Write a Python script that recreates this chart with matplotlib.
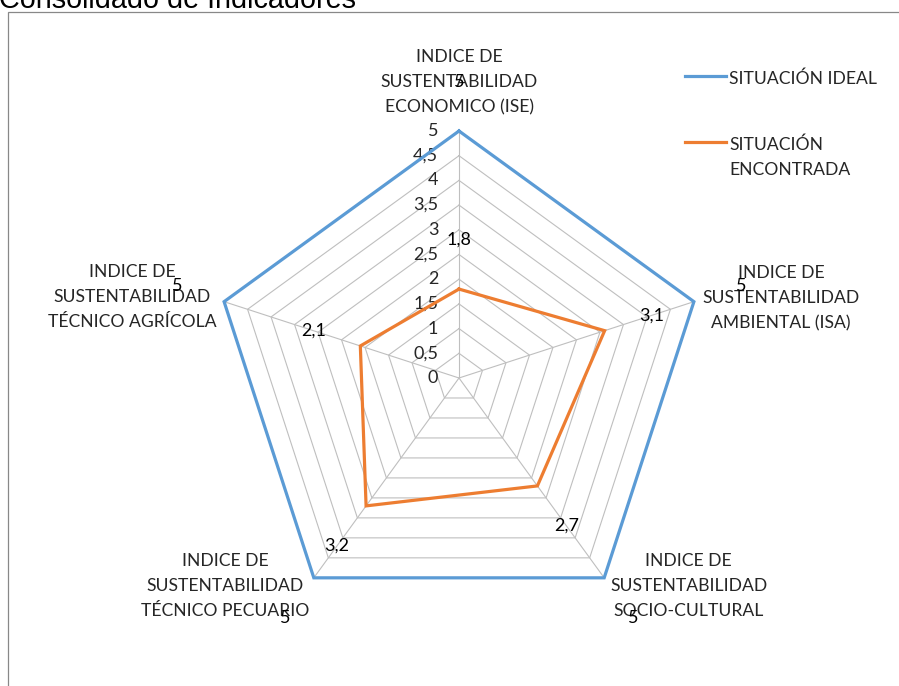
import numpy as np
import matplotlib.pyplot as plt
from matplotlib.lines import Line2D
from matplotlib.patches import Rectangle

# indicadores (ejes del radar) y valores de cada serie
categorias = [
    "INDICE DE\nSUSTENTABILIDAD\nECONOMICO (ISE)",
    "INDICE DE\nSUSTENTABILIDAD\nAMBIENTAL (ISA)",
    "INDICE DE\nSUSTENTABILIDAD\nSOCIO-CULTURAL",
    "INDICE DE\nSUSTENTABILIDAD\nTÉCNICO PECUARIO",
    "INDICE DE\nSUSTENTABILIDAD\nTÉCNICO AGRÍCOLA",
]
ideal = [5, 5, 5, 5, 5]
encontrada = [1.8, 3.1, 2.7, 3.2, 2.1]
etiquetas_ideal = ["5", "5", "5", "5", "5"]
etiquetas_encontrada = ["1,8", "3,1", "2,7", "3,2", "2,1"]
series = ["SITUACIÓN IDEAL", "SITUACIÓN\nENCONTRADA"]
ticks = [0, 0.5, 1, 1.5, 2, 2.5, 3, 3.5, 4, 4.5, 5]
tick_labels = ["0", "0,5", "1", "1,5", "2", "2,5", "3", "3,5", "4", "4,5", "5"]

AZUL = "#5B9BD5"
NARANJA = "#ED7D31"
GRIS = "#BFBFBF"
FUENTE = "Lato"

W, H = 899, 686
fig = plt.figure(figsize=(W / 100, H / 100), dpi=100)
ax = fig.add_axes([0, 0, 1, 1])

# escala: 5 unidades = 247 px, centro del radar en (459, 378) px
ppu = 247 / 5
cx, cy = 459, H - 378
ax.set_xlim(-cx / ppu, (W - cx) / ppu)
ax.set_ylim(-cy / ppu, (H - cy) / ppu)
ax.set_aspect("equal")
ax.axis("off")

n = len(categorias)
ang = np.deg2rad(90 - 72 * np.arange(n))


def xy(vals):
    vals = np.asarray(vals, dtype=float)
    return vals * np.cos(ang), vals * np.sin(ang)


# rejilla poligonal y radios
for t in ticks[1:]:
    gx, gy = xy([t] * n)
    ax.plot(np.append(gx, gx[0]), np.append(gy, gy[0]), color=GRIS, lw=0.8, zorder=1)
for a in ang:
    ax.plot([0, 5 * np.cos(a)], [0, 5 * np.sin(a)], color=GRIS, lw=0.8, zorder=1)

# etiquetas del eje de valores
for t, lab in zip(ticks, tick_labels):
    ax.text(-0.42, t, lab, ha="right", va="center", fontsize=13,
            family=FUENTE, color="#262626")

# series
for vals, col in [(ideal, AZUL), (encontrada, NARANJA)]:
    px, py = xy(vals)
    ax.plot(np.append(px, px[0]), np.append(py, py[0]), color=col, lw=2.3,
            solid_joinstyle="miter", zorder=3)

# etiquetas de datos, desplazadas una unidad hacia fuera sobre cada eje
for vals, labs in [(ideal, etiquetas_ideal), (encontrada, etiquetas_encontrada)]:
    lx, ly = xy(np.asarray(vals) + 1.0)
    for x, y, lab in zip(lx, ly, labs):
        ax.text(x, y, lab, ha="center", va="center", fontsize=13,
                family=FUENTE, color="#000000", zorder=4)

# nombres de los indicadores (centro de cada bloque, en unidades del radar)
pos_cat = [(0, 5.99), (6.52, 1.62), (4.65, -4.21), (-4.73, -4.21), (-6.62, 1.64)]
for (x, y), cat in zip(pos_cat, categorias):
    ax.text(x, y, cat, ha="center", va="center", fontsize=12.6, family=FUENTE,
            color="#262626", linespacing=1.7, multialignment="center")

# leyenda
leg_y = [1 - 76 / H, 1 - 142 / H]
for y, col, name in zip(leg_y, [AZUL, NARANJA], series):
    fig.add_artist(Line2D([685 / W, 726 / W], [y, y], color=col, lw=2.3,
                          transform=fig.transFigure))
    fig.text(729 / W, y + 6 / H, name, ha="left", va="top", fontsize=12.6,
             family=FUENTE, color="#262626", linespacing=1.7)

# marco del área del gráfico
fig.add_artist(Rectangle((8 / W, -0.5), 1.5, 1.5 - 12 / H, transform=fig.transFigure,
                         fill=False, edgecolor="#888888", lw=0.9))

fig.text(-1 / W, 1 - 8.5 / H, "Consolidado de Indicadores", ha="left",
         va="baseline", fontsize=20.7, family="Liberation Sans", color="#000000")

fig.savefig("out.png", dpi=100)
